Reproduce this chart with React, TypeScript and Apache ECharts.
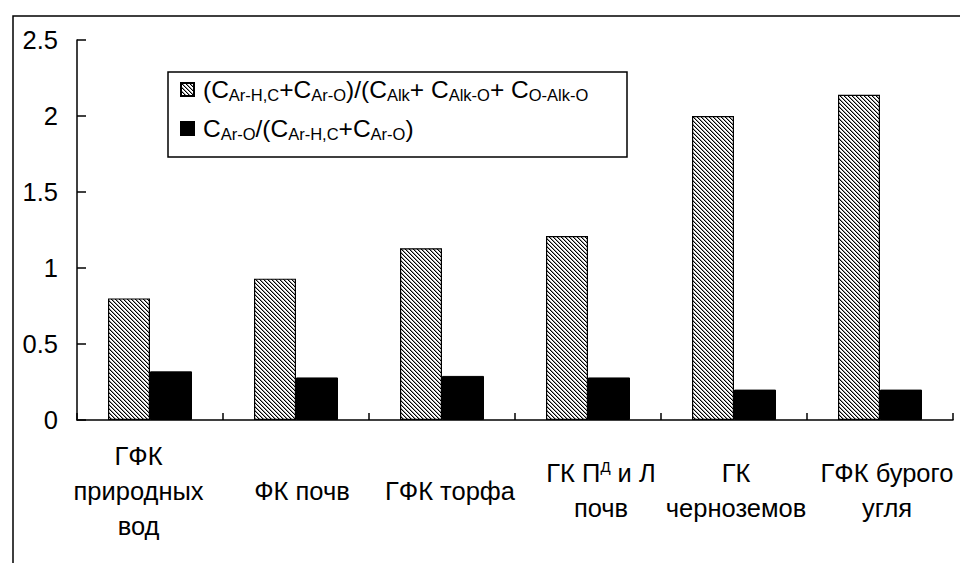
import React, { useEffect, useRef } from "react";
import * as echarts from "echarts";

const categories = [
  "ГФК\nприродных\nвод",
  "ФК почв",
  "ГФК торфа",
  "ГК П{sup|Д} и Л\nпочв",
  "ГК\nчерноземов",
  "ГФК бурого\nугля",
];
const labelShift = [23, -12, -16, -26, -4, -14];

const seriesNames = [
  "(CAr-H,C+CAr-O)/(CAlk+ CAlk-O+ CO-Alk-O",
  "CAr-O/(CAr-H,C+CAr-O)",
];
const legendRich: Record<string, string> = {
  [seriesNames[0]]:
    "{n|(C}{s|Ar-H,C}{n|+C}{s|Ar-O}{n|)/(C}{s|Alk}{n|+ C}{s|Alk-O}{n|+ C}{s|O-Alk-O}",
  [seriesNames[1]]: "{n|C}{s|Ar-O}{n|/(C}{s|Ar-H,C}{n|+C}{s|Ar-O}{n|)}",
};

const ratioAromatic = [0.8, 0.93, 1.13, 1.21, 2.0, 2.14];
const ratioArO = [0.32, 0.28, 0.29, 0.28, 0.2, 0.2];

const yTicks = { min: 0, max: 2.5, interval: 0.5 };

const FONT = "Arial, 'Liberation Sans', sans-serif";
const LINE_H = 35;

function makeHatch(): HTMLCanvasElement {
  const c = document.createElement("canvas");
  c.width = 4;
  c.height = 4;
  const ctx = c.getContext("2d")!;
  ctx.fillStyle = "#ffffff";
  ctx.fillRect(0, 0, 4, 4);
  ctx.fillStyle = "#000000";
  for (let i = 0; i < 4; i++) ctx.fillRect(i, i, 1, 1);
  ctx.fillStyle = "#9a9a9a";
  for (let i = 0; i < 4; i++) ctx.fillRect((i + 1) % 4, i, 1, 1);
  return c;
}

export default function App() {
  const ref = useRef<HTMLDivElement>(null);
  useEffect(() => {
    if (!ref.current) return;
    const chart = echarts.init(ref.current, undefined, { renderer: "svg" });
    const hatch = makeHatch();
    const option: any = {
      animation: false,
      backgroundColor: "#ffffff",
      textStyle: { fontFamily: FONT, color: "#000" },
      grid: {
        left: 77,
        right: 7,
        top: 40,
        bottom: 143,
        containLabel: false,
        outerBoundsMode: "none",
      },
      legend: {
        orient: "vertical",
        left: 180,
        top: 77,
        padding: 0,
        itemWidth: 13,
        itemHeight: 13,
        itemGap: 13,
        icon: "rect",
        selectedMode: false,
        formatter: (name: string) => legendRich[name] || name,
        textStyle: {
          fontFamily: FONT,
          color: "#000",
          padding: [0, 0, 0, 4],
          rich: {
            n: { fontSize: 24.5, lineHeight: 27, fontFamily: FONT, color: "#000" },
            s: {
              fontSize: 16.5,
              lineHeight: 16,
              verticalAlign: "bottom",
              fontFamily: FONT,
              color: "#000",
            },
          },
        },
      },
      graphic: [
        {
          type: "rect",
          z: -10,
          silent: true,
          shape: { x: 13, y: 16, width: 1000, height: 600 },
          style: { fill: "none", stroke: "#000", lineWidth: 1.5 },
        },
        {
          type: "rect",
          z: 3,
          silent: true,
          shape: { x: 168, y: 72, width: 459, height: 85 },
          style: { fill: "#fff", stroke: "#000", lineWidth: 1.5 },
        },
      ],
      xAxis: {
        type: "category",
        data: categories.map((c, i) => {
          const lines = c.split("\n").length;
          const top = ((3 - lines) * LINE_H) / 2;
          const s = labelShift[i];
          return {
            value: c,
            textStyle: {
              padding: s > 0 ? [top, s, 0, 0] : [top, 0, 0, -s],
            },
          };
        }),
        axisLine: { show: true, lineStyle: { color: "#000", width: 1.5 } },
        axisTick: {
          show: true,
          inside: true,
          length: 7,
          alignWithLabel: false,
          lineStyle: { color: "#000", width: 1.5 },
        },
        axisLabel: {
          interval: 0,
          margin: 18,
          verticalAlign: "top",
          fontSize: 25.5,
          lineHeight: LINE_H,
          color: "#000",
          fontFamily: FONT,
          rich: {
            sup: {
              fontSize: 15,
              verticalAlign: "top",
              lineHeight: LINE_H,
              fontFamily: FONT,
              color: "#000",
              padding: [3, 0, 0, 0],
            },
          },
        },
        splitLine: { show: false },
      },
      yAxis: {
        type: "value",
        min: yTicks.min,
        max: yTicks.max,
        interval: yTicks.interval,
        axisLine: { show: true, lineStyle: { color: "#000", width: 1.5 } },
        axisTick: { show: true, inside: true, length: 9, lineStyle: { color: "#000", width: 1.5 } },
        axisLabel: { fontSize: 25.5, margin: 19, color: "#000", fontFamily: FONT },
        splitLine: { show: false },
      },
      series: [
        {
          name: seriesNames[0],
          type: "bar",
          data: ratioAromatic,
          barWidth: 42,
          barGap: "0%",
          itemStyle: {
            color: { image: hatch, repeat: "repeat", imageWidth: 4, imageHeight: 4 },
            borderColor: "#000",
            borderWidth: 1.2,
          },
        },
        {
          name: seriesNames[1],
          type: "bar",
          data: ratioArO,
          barWidth: 42,
          itemStyle: { color: "#000", borderColor: "#000", borderWidth: 1 },
        },
      ],
    };
    chart.setOption(option);
    return () => chart.dispose();
  }, []);
  return (
    <div
      ref={ref}
      style={{ position: "fixed", left: 0, top: 0, width: 960, height: 563, background: "#fff" }}
    />
  );
}
